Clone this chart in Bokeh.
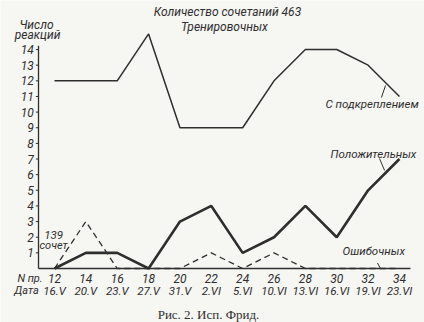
from bokeh.plotting import figure
from bokeh.models import Range1d
from bokeh.core.properties import value
from bokeh.embed import file_html
from bokeh.resources import INLINE

# Data
sessions = [12, 14, 16, 18, 20, 22, 24, 26, 28, 30, 32, 34]
dates = ["16.V", "20.V", "23.V", "27.V", "31.V", "2.VI", "5.VI", "10.VI", "13.VI", "16.VI", "19.VI", "23.VI"]
reinforced = [12, 12, 12, 15, 9, 9, 9, 12, 14, 14, 13, 11]
positive = [0, 1, 1, 0, 3, 4, 1, 2, 4, 2, 5, 7]
erroneous = [0, 3, 0, 0, 0, 1, 0, 1, 0, 0, 0, 0]
y_ticks = list(range(1, 15))
y_tick_labels = [str(v) for v in y_ticks]
x_tick_labels = [str(s) for s in sessions]

FONT = value("Roboto")
SERIF = value("Liberation Serif")
INK = "#2e2e2e"
BG = "#f6f6f3"

p = figure(width=424, height=322, output_backend="svg", toolbar_location=None,
           x_range=Range1d(8.556, 35.597), y_range=Range1d(-3.453, 17.136),
           x_axis_location=None, y_axis_location=None,
           min_border=0, min_border_left=0, min_border_right=0,
           min_border_top=0, min_border_bottom=0,
           background_fill_color=BG, border_fill_color=BG)
p.outline_line_color = None
p.grid.visible = False

AX_X = 10.98   # position of the vertical axis (data units)
# axes
p.segment(x0=[AX_X, AX_X], y0=[0, 0], x1=[AX_X, 34.7], y1=[14.25, 0],
          line_color=INK, line_width=1.3)
p.segment(x0=[AX_X - 0.17] * len(y_ticks), y0=y_ticks, x1=[AX_X] * len(y_ticks), y1=y_ticks,
          line_color=INK, line_width=1)
p.text(x=[AX_X - 0.3] * len(y_ticks), y=y_ticks, text=y_tick_labels,
       text_align="right", text_baseline="middle", text_font=FONT,
       text_font_style="italic", text_font_size="12px", text_color=INK)

# x tick labels: session number and date
p.text(x=sessions, y=[-0.64] * len(sessions), text=x_tick_labels,
       text_align="center", text_baseline="middle", text_font=FONT,
       text_font_style="italic", text_font_size="12px", text_color=INK)
p.text(x=sessions, y=[-1.41] * len(sessions), text=dates,
       text_align="center", text_baseline="middle", text_font=FONT,
       text_font_style="italic", text_font_size="11.5px", text_color=INK)

# series
p.line(sessions, reinforced, line_color=INK, line_width=1.5)
p.line(sessions, positive, line_color=INK, line_width=2.6)
p.line(sessions, erroneous, line_color=INK, line_width=1.3, line_dash="6 4")

def lab(x, y, t, align="left", size="11.5px", font=FONT, style="italic"):
    p.text(x=[x], y=[y], text=[t], text_align=align, text_baseline="middle",
           text_font=font, text_font_style=style, text_font_size=size, text_color=INK)

lab(23.03, 16.37, "Количество сочетаний 463", align="center", size="12px")
lab(22.84, 15.47, "Тренировочных", align="center", size="12px")
lab(10.85, 15.54, "Число", align="center", size="12px")
lab(10.92, 14.90, "реакций", align="center", size="12px")
lab(29.28, 10.49, "С подкреплением")
lab(29.60, 7.35, "Положительных")
lab(30.37, 1.15, "Ошибочных")
lab(11.94, 2.17, "139", align="center")
lab(11.94, 1.47, "сочет", align="center", size="11px")
lab(10.44, -0.64, "N пр.", align="center", size="11px")
lab(10.21, -1.41, "Дата", align="center", size="11px")
lab(21.82, -2.94, "Рис. 2. Исп. Фрид.", align="center", font=SERIF, style="normal", size="13px")

# leader strokes
p.segment(x0=[33.11, 32.6, 32.73], y0=[11.70, 0.35, 7.03], x1=[32.85, 32.79, 33.05], y1=[10.93, 0.0, 6.27],
          line_color=INK, line_width=1)

open("out.html", "w").write(file_html(p, INLINE))
